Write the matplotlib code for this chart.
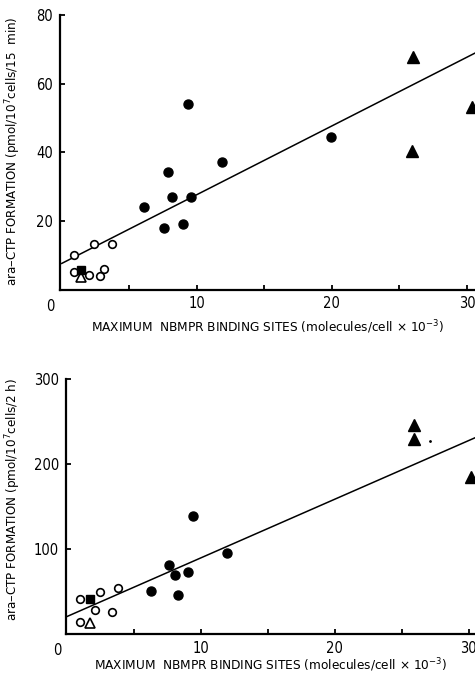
import matplotlib
matplotlib.use("Agg")
import matplotlib.pyplot as plt
import numpy as np

plt.rcParams['font.family'] = ['DejaVu Sans']
plt.rcParams['font.stretch'] = 'condensed'

# ---- Panel A data (pmol/10^7 cells/15 min) ----
a_open_x = [0.9, 2.4, 3.75, 0.9, 2.0, 2.85, 3.15]
a_open_y = [10.0, 13.4, 13.4, 5.0, 4.1, 3.9, 5.9]
a_sq_x = [1.45]
a_sq_y = [5.7]
a_otri_x = [1.45]
a_otri_y = [3.5]
a_fill_x = [6.1, 7.6, 7.9, 8.15, 9.35, 9.55, 8.95, 11.9, 19.95]
a_fill_y = [24.0, 18.0, 34.3, 26.9, 54.1, 27.0, 19.0, 37.2, 44.4]
a_ftri_x = [26.0, 25.95, 30.4]
a_ftri_y = [67.9, 40.3, 53.3]
a_line_x = [0, 30.6]
a_line_y = [7.6, 68.9]

# ---- Panel B data (pmol/10^7 cells/2 h) ----
b_open_x = [1.0, 2.5, 3.8, 2.1, 3.35, 1.0]
b_open_y = [41.1, 49.7, 53.6, 27.7, 26.1, 14.4]
b_sq_x = [1.75]
b_sq_y = [41.1]
b_otri_x = [1.75]
b_otri_y = [12.4]
b_fill_x = [6.3, 7.65, 8.05, 8.3, 9.05, 9.4, 12.0]
b_fill_y = [50.5, 81.1, 69.4, 46.2, 72.5, 139.3, 94.9]
b_ftri_x = [25.95, 25.95, 30.2]
b_ftri_y = [245.8, 229.7, 184.5]
b_dot_x = [27.1]
b_dot_y = [227.7]
b_line_x = [0, 30.5]
b_line_y = [20.2, 231.2]

xlabel = "MAXIMUM  NBMPR BINDING SITES (molecules/cell $\\times$ 10$^{-3}$)"
ylabel_a = "ara\u2013CTP FORMATION (pmol/10$^7$cells/15  min)"
ylabel_b = "ara\u2013CTP FORMATION (pmol/10$^7$cells/2 h)"

fig = plt.figure(figsize=(4.75, 6.79), dpi=100)

def style(ax, yticks):
    ax.spines['top'].set_visible(False)
    ax.spines['right'].set_visible(False)
    for s in ['left', 'bottom']:
        ax.spines[s].set_linewidth(1.6)
    ax.tick_params(direction='in', length=3.5, width=1.3, labelsize=10.5, pad=5)
    ax.set_xticks([5, 10, 15, 20, 25, 30])
    ax.set_xticklabels(['', '10', '', '20', '', '30'])
    ax.set_yticks(yticks)
    ax.set_yticklabels([str(t) for t in yticks])

def draw(ax, ox, oy, sx, sy, tx, ty, fx, fy, ftx, fty, lx, ly):
    ax.plot(lx, ly, color='black', lw=1.1, zorder=2)
    ax.plot(ox, oy, 'o', mfc='white', mec='black', mew=1.2, ms=5.5, ls='none', zorder=3, clip_on=False)
    ax.plot(fx, fy, 'o', color='black', ms=6.5, ls='none', zorder=3, clip_on=False)
    ax.plot(ftx, fty, '^', color='black', ms=8, ls='none', zorder=3, clip_on=False)
    ax.plot(tx, ty, '^', mfc='white', mec='black', mew=1.2, ms=7, ls='none', zorder=4, clip_on=False)
    ax.plot(sx, sy, 's', color='black', ms=5.5, ls='none', zorder=5, clip_on=False)

# Top panel
ax1 = fig.add_axes([60/475, 1-289.5/679, 1-60/475, (289.5-15)/679])
ax1.set_xlim(-0.13, 30.6)
ax1.set_ylim(0, 80)
style(ax1, [20, 40, 60, 80])
draw(ax1, a_open_x, a_open_y, a_sq_x, a_sq_y, a_otri_x, a_otri_y,
     a_fill_x, a_fill_y, a_ftri_x, a_ftri_y, a_line_x, a_line_y)
ax1.text(-0.85, -2.8, '0', ha='center', va='top', fontsize=10.5)
ax1.set_xlabel(xlabel, fontsize=9.7)
ax1.xaxis.set_label_coords(0.5, -0.104)
ax1.set_ylabel(ylabel_a, fontsize=9.5)
ax1.yaxis.set_label_coords(-0.088, 0.505)

# Bottom panel
ax2 = fig.add_axes([66/475, 1-633.8/679, 1-66/475, (633.8-379.3)/679])
ax2.set_xlim(-0.05, 30.48)
ax2.set_ylim(0, 300)
style(ax2, [100, 200, 300])
draw(ax2, b_open_x, b_open_y, b_sq_x, b_sq_y, b_otri_x, b_otri_y,
     b_fill_x, b_fill_y, b_ftri_x, b_ftri_y, b_line_x, b_line_y)
ax2.plot(b_dot_x, b_dot_y, '.', color='black', ms=2)
ax2.text(-0.7, -11, '0', ha='center', va='top', fontsize=10.5)
ax2.set_xlabel(xlabel, fontsize=9.7)
ax2.xaxis.set_label_coords(0.5, -0.09)
ax2.set_ylabel(ylabel_b, fontsize=9.5)
ax2.yaxis.set_label_coords(-0.105, 0.526)

fig.savefig('out.png', dpi=100)
